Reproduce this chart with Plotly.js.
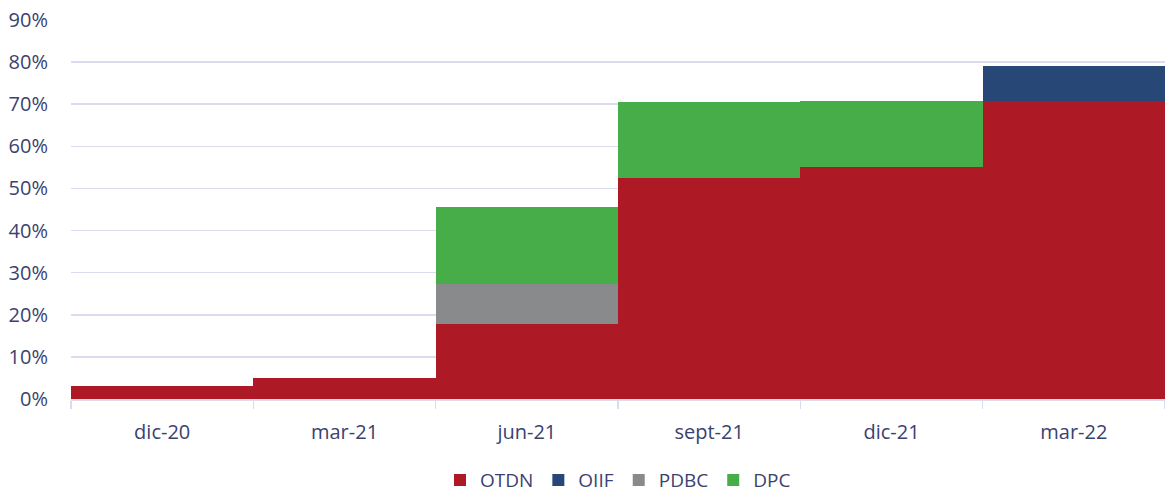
<!DOCTYPE html>
<html>
<head>
<meta charset="utf-8">
<script src="https://cdn.plot.ly/plotly-3.0.1.min.js"></script>
<style>html,body{margin:0;padding:0;background:#fff;}#chart{width:1165px;height:494px;}</style>
</head>
<body>
<div id="chart"></div>
<script>
const categories = ["dic-20", "mar-21", "jun-21", "sept-21", "dic-21", "mar-22"];
const OTDN = [3.0, 4.9, 17.8, 52.6, 55.0, 70.7];
const OIIF = [0, 0, 0, 0, 0, 8.3];
const PDBC = [0, 0, 9.4, 0, 0, 0];
const DPC  = [0, 0, 18.3, 17.9, 15.7, 0];
const yTicks = [0, 10, 20, 30, 40, 50, 60, 70, 80, 90];
const yTickText = yTicks.map(v => v + "%");

const seriesNames = ["OTDN", "OIIF", "PDBC", "DPC"];
const seriesValues = [OTDN, OIIF, PDBC, DPC];
const colors = ["#AE1926", "#274876", "#898A8C", "#47AD48"];

const traces = seriesNames.map((n, i) => ({
  type: "bar",
  name: n,
  x: categories,
  y: seriesValues[i],
  marker: {color: colors[i], line: {width: 0}},
  hoverinfo: "x+y+name"
}));

const fontColor = "#3a4270";
const layout = {
  width: 1165, height: 494,
  barmode: "stack",
  bargap: 0,
  margin: {l: 71, r: 0, t: 20, b: 95},
  paper_bgcolor: "#fff",
  plot_bgcolor: "#fff",
  font: {family: "Open Sans, Noto Sans, sans-serif", size: 20, color: fontColor},
  xaxis: {
    type: "category",
    tickson: "boundaries",
    ticks: "outside",
    ticklen: 8,
    tickwidth: 1.5,
    tickcolor: "#d9dcef",
    showline: true,
    linecolor: "#d9dcef",
    linewidth: 1.5,
    showgrid: false,
    tickfont: {size: 20, color: fontColor},
    ticklabelstandoff: 14
  },
  yaxis: {
    range: [0, 90],
    tickvals: yTicks,
    ticktext: yTickText,
    showgrid: true,
    gridcolor: "#d9dcef",
    gridwidth: 1.5,
    zeroline: false,
    showline: false,
    ticks: "",
    ticklabelstandoff: 22,
    tickfont: {size: 20, color: fontColor}
  },
  showlegend: true,
  legend: {
    orientation: "h",
    x: 0.5, xanchor: "center",
    yref: "container",
    y: 0.028, yanchor: "middle",
    traceorder: "normal",
    font: {size: 19, color: fontColor},
    itemwidth: 30,
    tracegroupgap: 0
  }
};

Plotly.newPlot("chart", traces, layout, {displayModeBar: false, staticPlot: true});
</script>
</body>
</html>
